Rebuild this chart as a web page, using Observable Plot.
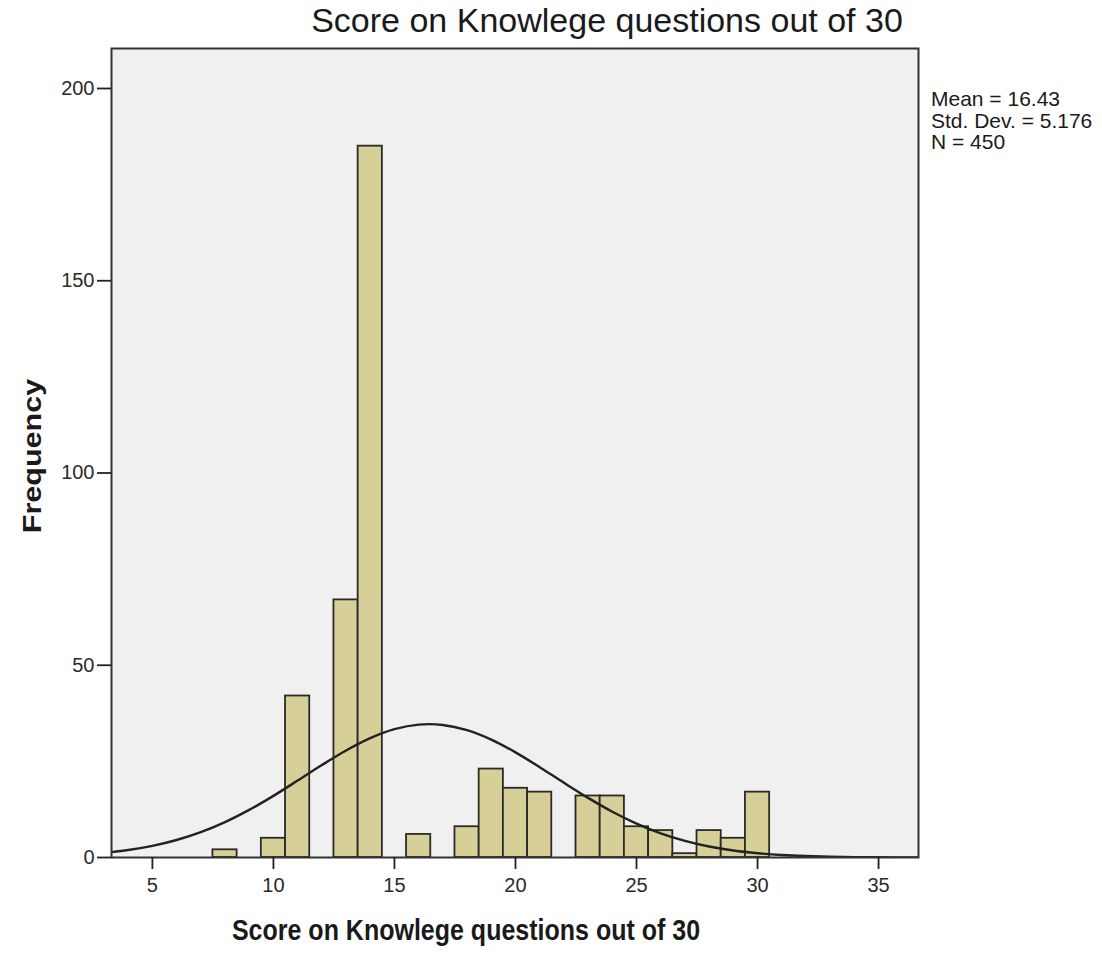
<!DOCTYPE html>
<html>
<head>
<meta charset="utf-8">
<script src="https://cdn.jsdelivr.net/npm/d3@7"></script>
<script src="https://cdn.jsdelivr.net/npm/@observablehq/plot@0.6"></script>
<style>
  body { margin: 0; background: #fff; }
  #wrap { position: relative; width: 1102px; height: 953px; font-family: "Liberation Sans", Arial, sans-serif; color: #1a1a1a; }
  .abs { position: absolute; white-space: nowrap; line-height: 1; }
  #title { left: 607px; top: 3px; transform: translateX(-50%); font-size: 34px; }
  #xlabel { left: 466px; top: 918px; transform: translateX(-50%) scaleY(1.15); font-size: 25px; font-weight: bold; }
  #ylabel { left: 32px; top: 456px; transform: translate(-50%, -50%) rotate(-90deg) scaleX(1.22); font-size: 25px; font-weight: bold; }
  #stats { left: 931px; top: 88px; font-size: 21px; line-height: 21.5px; }
</style>
</head>
<body>
<div id="wrap">
  <div id="chart"></div>
  <div class="abs" id="title"></div>
  <div class="abs" id="xlabel"></div>
  <div class="abs" id="ylabel"></div>
  <div class="abs" id="stats"></div>
</div>
<script>
const titleText = "Score on Knowlege questions out of 30";
const xLabelText = "Score on Knowlege questions out of 30";
const yLabelText = "Frequency";
const statsLines = ["Mean = 16.43", "Std. Dev. = 5.176", "N = 450"];

const scores = [8, 10, 11, 13, 14, 16, 18, 19, 20, 21, 23, 24, 25, 26, 27, 28, 29, 30];
const counts = [2, 5, 42, 67, 185, 6, 8, 23, 18, 17, 16, 16, 8, 7, 1, 7, 5, 17];

// normal curve (fit: mean 16.43, sd 5.176, N 450)
const curveX = [3, 4, 5, 6, 7, 8, 9, 10, 11, 12, 13, 14, 15, 16, 17, 18, 19, 20, 21, 22, 23, 24, 25, 26, 27, 28, 29, 30, 31, 32, 33, 34, 35, 36, 37];
const curveY = [1.20, 1.94, 3.03, 4.55, 6.59, 9.21, 12.38, 16.03, 20.00, 24.04, 27.84, 31.06, 33.38, 34.56, 34.47, 33.12, 30.66, 27.34, 23.49, 19.43, 15.50, 11.90, 8.81, 6.28, 4.31, 2.85, 1.82, 1.12, 0.66, 0.38, 0.21, 0.11, 0.06, 0.03, 0.01];

const xTicks = [5, 10, 15, 20, 25, 30, 35];
const yTicks = [0, 50, 100, 150, 200];

const bars = scores.map((s, i) => ({score: s, count: counts[i]}));
const curve = curveX.map((x, i) => ({x, y: curveY[i]}));

const plot = Plot.plot({
  width: 1102,
  height: 953,
  marginLeft: 111,
  marginRight: 184,
  marginTop: 48,
  marginBottom: 96,
  x: {domain: [3.31, 36.65]},
  y: {domain: [0, 210.4]},
  style: {background: "#fff", fontFamily: "'Liberation Sans', Arial, sans-serif", fontSize: "20px", color: "#2a2a2a"},
  marks: [
    Plot.frame({fill: "#f0f0f0", stroke: "none"}),
    Plot.rectY(bars, {x1: d => d.score - 0.5, x2: d => d.score + 0.5, y: "count", fill: "#d6cf97", stroke: "#2a2a2a", strokeWidth: 1.8}),
    Plot.line(curve, {x: "x", y: "y", stroke: "#222", strokeWidth: 2.4, curve: "catmull-rom", clip: true}),
    Plot.frame({stroke: "#333", strokeWidth: 2}),
    Plot.axisX({ticks: xTicks, tickSize: 12, tickPadding: 8, label: null, stroke: "#222", strokeWidth: 1.8}),
    Plot.axisY({ticks: yTicks, tickSize: 14, tickPadding: 3, label: null, stroke: "#222", strokeWidth: 1.8})
  ]
});
document.getElementById("chart").appendChild(plot);
document.getElementById("title").textContent = titleText;
document.getElementById("xlabel").textContent = xLabelText;
document.getElementById("ylabel").textContent = yLabelText;
document.getElementById("stats").innerHTML = statsLines.map(s => `<div>${s}</div>`).join("");
</script>
</body>
</html>
